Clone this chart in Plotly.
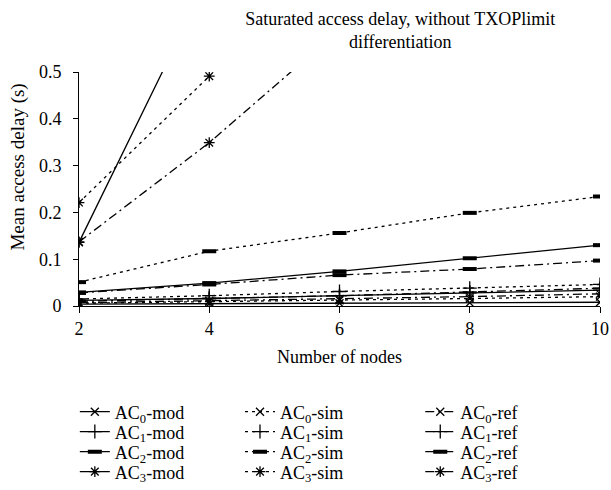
import plotly.graph_objects as go

nodes = [2, 4, 6, 8, 10]

# Mean access delay (s)
ac0_mod = [0.004, 0.005, 0.006, 0.007, 0.008]
ac1_mod = [0.012, 0.016, 0.022, 0.028, 0.034]
ac2_mod = [0.029, 0.049, 0.074, 0.102, 0.130]
ac3_mod = [0.136, 0.705, 1.30, 1.90, 2.50]

ac0_sim = [0.006, 0.009, 0.012, 0.016, 0.020]
ac1_sim = [0.015, 0.022, 0.031, 0.038, 0.046]
ac2_sim = [0.051, 0.117, 0.156, 0.199, 0.234]
ac3_sim = [0.221, 0.491, None, None, None]

ac0_ref = [0.007, 0.011, 0.015, 0.020, 0.026]
ac1_ref = [0.010, 0.016, 0.022, 0.030, 0.038]
ac2_ref = [0.028, 0.046, 0.066, 0.079, 0.097]
ac3_ref = [0.137, 0.349, 0.59, 0.85, 1.10]

kinds = ["mod", "sim", "ref"]
series = {
    "mod": [ac0_mod, ac1_mod, ac2_mod, ac3_mod],
    "sim": [ac0_sim, ac1_sim, ac2_sim, ac3_sim],
    "ref": [ac0_ref, ac1_ref, ac2_ref, ac3_ref],
}
dashes = {"mod": "solid", "sim": "3px,4px", "ref": "9px,4px,2px,4px"}
symbols = ["x-thin-open", "cross-thin-open", "line-ew-open", "asterisk-open"]
msizes = [8, 10, 10, 9]
mwidths = [1.3, 1.3, 4, 1.3]

FONT = "Liberation Serif"

# legend grid placement (one legend per entry)
col_x = {"mod": -0.008, "sim": 0.309, "ref": 0.655}
row_y = [-0.453, -0.538, -0.624, -0.709]

fig = go.Figure()
layout_legends = {}
n = 0
for kind in kinds:
    for i in range(4):
        n += 1
        lname = "legend" if n == 1 else f"legend{n}"
        fig.add_trace(go.Scatter(
            x=nodes, y=series[kind][i],
            mode="lines+markers",
            name=f"AC<sub>{i}</sub>-{kind}",
            legend=lname,
            line=dict(color="black", width=1.3, dash=dashes[kind]),
            marker=dict(symbol=symbols[i], size=msizes[i], color="black",
                        line=dict(color="black", width=mwidths[i])),
            connectgaps=False,
        ))
        layout_legends[lname] = dict(
            orientation="v", x=col_x[kind], xanchor="left",
            y=row_y[i], yanchor="middle",
            font=dict(family=FONT, size=18), bgcolor="rgba(0,0,0,0)",
            itemwidth=30)

fig.update_layout(
    width=611, height=490,
    margin=dict(l=79, r=11, t=72, b=184, autoexpand=False),
    paper_bgcolor="white", plot_bgcolor="white",
    font=dict(family=FONT, size=18, color="black"),
    title=dict(text="Saturated access delay, without TXOPlimit<br>differentiation",
               x=0.655, xanchor="center", y=0.95, yanchor="top",
               font=dict(family=FONT, size=18)),
    showlegend=True,
    annotations=[dict(text="Mean access delay (s)", textangle=-90,
                      xref="paper", yref="paper", x=-0.118, y=0.594,
                      xanchor="center", yanchor="middle", showarrow=False,
                      font=dict(family=FONT, size=19))],
    **layout_legends,
)
fig.update_xaxes(range=[2, 10], tickvals=nodes, showline=True, linecolor="black",
                 linewidth=1, ticks="outside", ticklen=6, tickcolor="black",
                 showgrid=False, zeroline=False,
                 title=dict(text="Number of nodes", font=dict(family=FONT, size=18), standoff=12),
                 tickfont=dict(family=FONT, size=18))
fig.update_yaxes(range=[0, 0.5], tickvals=[0, 0.1, 0.2, 0.3, 0.4, 0.5],
                 ticktext=["0", "0.1", "0.2", "0.3", "0.4", "0.5"],
                 showline=True, linecolor="black", linewidth=1, ticks="outside",
                 ticklen=5, tickcolor="black", showgrid=False, zeroline=False,
                 ticklabelstandoff=8,
                 tickfont=dict(family=FONT, size=18))

fig.write_html("out.html")
